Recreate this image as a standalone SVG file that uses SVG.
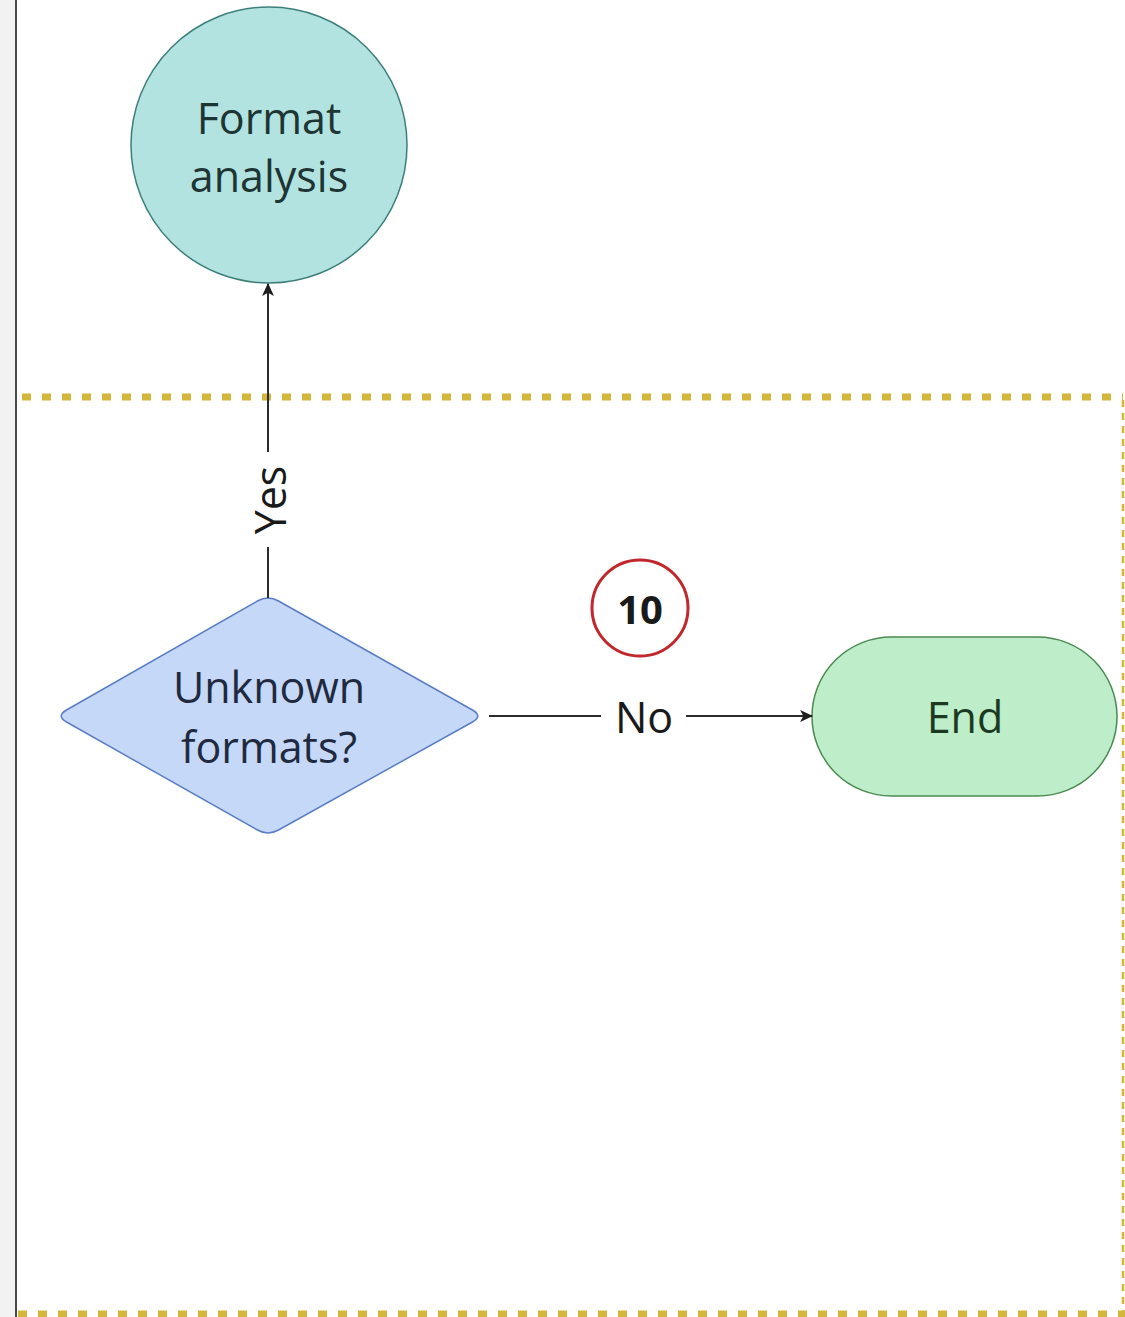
<svg xmlns="http://www.w3.org/2000/svg" width="1125" height="1317" viewBox="0 0 1125 1317">
<style>
  .lbl { font-family: "Open Sans", "Noto Sans", "Liberation Sans", sans-serif; font-size: 43px; text-anchor: middle; }
  .edge { fill: none; stroke: #2b2b2b; stroke-width: 2; }
  .lane { fill: none; stroke: #d4b63a; }
</style>
<defs>
  <marker id="arrow" viewBox="0 0 12 12" refX="11" refY="6" markerWidth="13" markerHeight="13" markerUnits="userSpaceOnUse" orient="auto">
    <path d="M0,0.5 L12,6 L0,11.5 L3,6 Z" fill="#1e1e1e"/>
  </marker>
</defs>
<rect x="0" y="0" width="1125" height="1317" fill="#ffffff"/>
<rect x="0" y="0" width="15" height="1317" fill="#f2f2f2"/>
<line x1="16" y1="0" x2="16" y2="1317" stroke="#4a4a4a" stroke-width="2"/>

<g id="lane-boundary">
  <line class="lane" x1="22" y1="397" x2="1123" y2="397" stroke-width="7" stroke-dasharray="9 11"/>
  <line class="lane" x1="1123" y1="400" x2="1123" y2="1313" stroke-width="2.5" stroke-dasharray="7 6"/>
  <line class="lane" x1="18" y1="1314" x2="1125" y2="1314" stroke-width="7" stroke-dasharray="9 11"/>
</g>

<g id="node-format-analysis">
  <circle cx="269" cy="145" r="138" fill="#b3e3e0" stroke="#3c7f7a" stroke-width="1.5"/>
  <text class="lbl" x="269" y="134" fill="#1d3533">Format</text>
  <text class="lbl" x="269" y="192" fill="#1d3533">analysis</text>
</g>

<g id="node-unknown-formats">
  <path d="M257.5,601 Q268,595 278.5,601 L472.5,710 Q483,716 472.5,722 L278.5,830 Q268,836 257.5,830 L66.5,722 Q56,716 66.5,710 Z" fill="#c6d8f7" stroke="#5a7ec4" stroke-width="1.5"/>
  <text class="lbl" x="269" y="703" fill="#1f2a40">Unknown</text>
  <text class="lbl" x="269" y="763" fill="#1f2a40">formats?</text>
</g>

<g id="node-end">
  <rect x="812" y="637" width="305" height="159" rx="79.5" ry="79.5" fill="#bdeec9" stroke="#4a8a50" stroke-width="1.5"/>
  <text class="lbl" x="965" y="733" fill="#1c3a22">End</text>
</g>

<g id="badge-10">
  <circle cx="640" cy="608" r="48" fill="#ffffff" stroke="#c0282d" stroke-width="3"/>
  <text x="640" y="624" font-family="'Open Sans', 'Noto Sans', 'Liberation Sans', sans-serif" font-size="40" font-weight="bold" text-anchor="middle" fill="#1a1a1a">10</text>
</g>

<g id="connectors">
  <path class="edge" d="M268,598 V547"/>
  <path class="edge" d="M268,452 V284" marker-end="url(#arrow)"/>
  <text class="lbl" transform="translate(286,500) rotate(-90)" x="0" y="0" fill="#1a1a1a">Yes</text>
  <path class="edge" d="M489,716 H601"/>
  <path class="edge" d="M686,716 H812" marker-end="url(#arrow)"/>
  <text class="lbl" x="644" y="733" fill="#1a1a1a">No</text>
</g>
</svg>
